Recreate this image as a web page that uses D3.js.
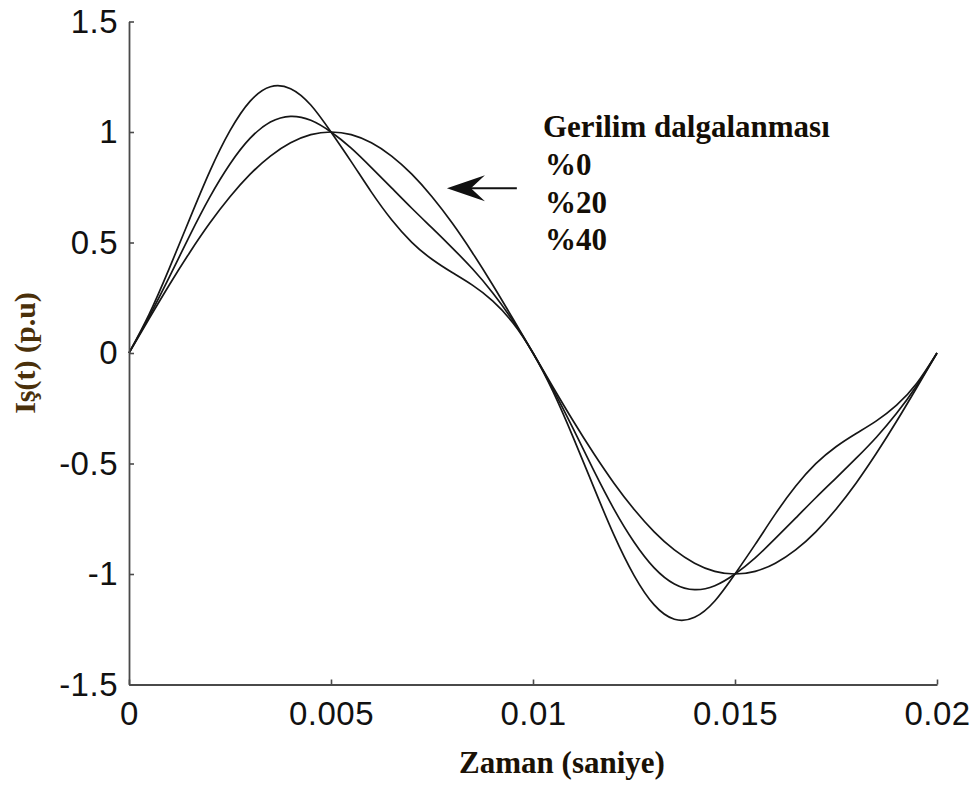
<!DOCTYPE html>
<html>
<head>
<meta charset="utf-8">
<script src="https://cdn.jsdelivr.net/npm/d3@7"></script>
<style>
  html, body { margin: 0; padding: 0; background: #fff; }
  svg { display: block; }
</style>
</head>
<body>
<svg id="chart" width="977" height="787"></svg>
<script>
// ---- data ----
const time = [0,0.0005,0.001,0.0015,0.002,0.0025,0.003,0.0035,0.004,0.0045,0.005,
  0.0055,0.006,0.0065,0.007,0.0075,0.008,0.0085,0.009,0.0095,0.01,
  0.0105,0.011,0.0115,0.012,0.0125,0.013,0.0135,0.014,0.0145,0.015,
  0.0155,0.016,0.0165,0.017,0.0175,0.018,0.0185,0.019,0.0195,0.02];
const ripple0 = [0,0.156,0.309,0.454,0.588,0.707,0.809,0.891,0.951,0.988,1.000,
  0.988,0.951,0.891,0.809,0.707,0.588,0.454,0.309,0.156,0,
  -0.156,-0.309,-0.454,-0.588,-0.707,-0.809,-0.891,-0.951,-0.988,-1.000,
  -0.988,-0.951,-0.891,-0.809,-0.707,-0.588,-0.454,-0.309,-0.156,0];
const ripple20 = [0,0.166,0.345,0.530,0.705,0.855,0.972,1.045,1.071,1.053,1.000,
  0.927,0.839,0.747,0.655,0.566,0.476,0.381,0.273,0.147,0,
  -0.166,-0.345,-0.530,-0.705,-0.855,-0.972,-1.045,-1.071,-1.053,-1.000,
  -0.927,-0.839,-0.747,-0.655,-0.566,-0.476,-0.381,-0.273,-0.147,0];
const ripple40 = [0,0.176,0.384,0.606,0.822,1.006,1.140,1.205,1.196,1.122,1.000,
  0.866,0.728,0.603,0.501,0.424,0.364,0.307,0.236,0.137,0,
  -0.176,-0.384,-0.606,-0.822,-1.006,-1.140,-1.205,-1.196,-1.122,-1.000,
  -0.866,-0.728,-0.603,-0.501,-0.424,-0.364,-0.307,-0.236,-0.137,0];
const seriesList = [ripple0, ripple20, ripple40];
const xTicks = [0, 0.005, 0.01, 0.015, 0.02];
const yTicks = [-1.5, -1, -0.5, 0, 0.5, 1, 1.5];
const legendTitle = "Gerilim dalgalanması";
const legendItems = ["%0", "%20", "%40"];
const xLabel = "Zaman (saniye)";
const yLabel = "Iş(t) (p.u)";

// ---- drawing ----
const svg = d3.select("#chart");
const x = d3.scaleLinear().domain([0, 0.02]).range([129, 937]);
const y = d3.scaleLinear().domain([-1.5, 1.5]).range([684.5, 21.5]);

const tickFont = "'Liberation Sans', Arial, sans-serif";
const serif = "'Liberation Serif', 'Times New Roman', serif";

// curves
const line = d3.line().x((d, i) => x(time[i])).y(d => y(d)).curve(d3.curveNatural);
svg.append("g").selectAll("path").data(seriesList).join("path")
  .attr("d", d => line(d))
  .attr("fill", "none")
  .attr("stroke", "#161616")
  .attr("stroke-width", 1.7);

// axes
const xAxis = d3.axisBottom(x).tickValues(xTicks).tickFormat(d => String(d))
  .tickSizeInner(-5).tickSizeOuter(0).tickPadding(17);
const yAxis = d3.axisLeft(y).tickValues(yTicks).tickFormat(d => String(d))
  .tickSizeInner(-5).tickSizeOuter(0).tickPadding(11);

const gx = svg.append("g").attr("transform", `translate(0,${y(-1.5)})`).call(xAxis);
const gy = svg.append("g").attr("transform", `translate(${x(0)},0)`).call(yAxis);
[gx, gy].forEach(g => {
  g.selectAll(".domain").attr("stroke", "#4a4a4a").attr("stroke-width", 1.8);
  g.selectAll(".tick line").attr("stroke", "#4a4a4a").attr("stroke-width", 1.6);
  g.selectAll(".tick text").attr("fill", "#111").attr("font-family", tickFont)
    .attr("font-size", 33).attr("letter-spacing", 0.5);
});

// axis titles
svg.append("text").attr("x", 562).attr("y", 773).attr("text-anchor", "middle")
  .attr("font-family", serif).attr("font-weight", "bold").attr("font-size", 31)
  .attr("fill", "#1b1206").text(xLabel);
svg.append("text").attr("transform", "translate(35,353) rotate(-90)")
  .attr("text-anchor", "middle")
  .attr("font-family", serif).attr("font-weight", "bold").attr("font-size", 30)
  .attr("fill", "#4a300a").text(yLabel);

// legend text
const lg = svg.append("g").attr("font-family", serif).attr("font-weight", "bold")
  .attr("font-size", 31).attr("fill", "#140e06");
lg.append("text").attr("x", 543).attr("y", 137).text(legendTitle);
lg.selectAll("text.item").data(legendItems).join("text").attr("class", "item")
  .attr("x", 545).attr("y", (d, i) => 175 + i * 37.5).text(d => d);

// arrow (annotation), anchored in data units
const tipX = x(0.00787), tipY = y(0.745), tailX = x(0.0096);
svg.append("line").attr("x1", tipX + 20).attr("y1", tipY).attr("x2", tailX).attr("y2", tipY)
  .attr("stroke", "#111").attr("stroke-width", 2);
svg.append("path")
  .attr("d", `M${tipX},${tipY} L${tipX + 38},${tipY - 13} L${tipX + 24},${tipY} L${tipX + 38},${tipY + 13} Z`)
  .attr("fill", "#111");
</script>
</body>
</html>
